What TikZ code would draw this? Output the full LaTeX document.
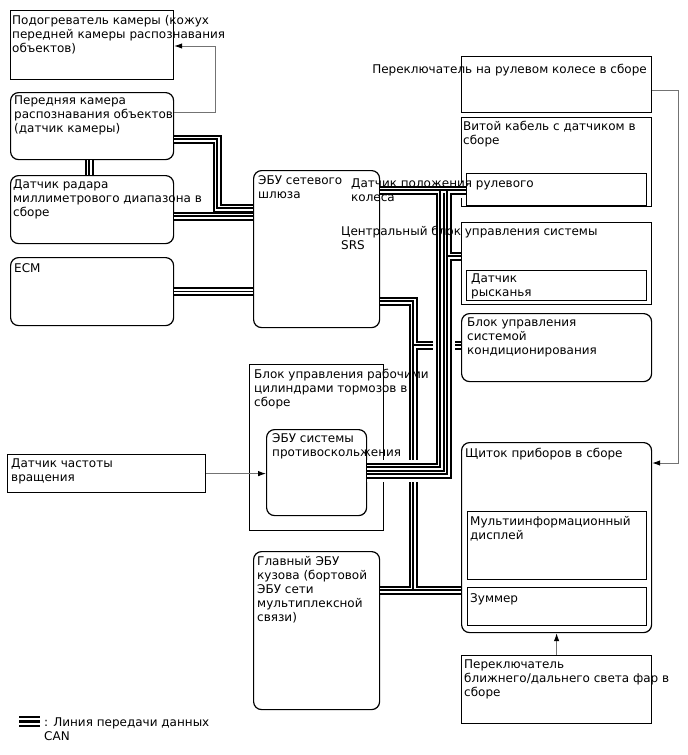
\documentclass[tikz,border=0pt]{standalone}
\usepackage{fontspec}
\setmainfont{DejaVu Sans}
\usetikzlibrary{arrows.meta}
\newcommand{\tfont}{\fontsize{12}{14}\selectfont}

\tikzset{
  box/.style={draw, line width=1.2pt, anchor=north west, inner sep=0pt},
  rbox/.style={box, rounded corners=8pt},
  sz/.style 2 args={minimum width=#1pt, minimum height=#2pt},
  txt/.style={anchor=north west, inner sep=0pt, align=left, font=\tfont, execute at begin node=\strut},
  can/.style={line width=9pt, postaction={draw, white, line width=5pt}, postaction={draw, black, line width=1.2pt}},
  cantop/.style={can, preaction={draw, white, line width=15pt}},
  sig/.style={draw=black!55, line width=0.9pt, -{Latex[black, length=8pt, width=5.5pt]}}
}

\begin{document}
\begin{tikzpicture}[x=1pt, y=-1pt]
  \useasboundingbox (0,0) rectangle (688,755);

  % left column
  \node[box, sz={163}{69}] (heater) at (10,10) {};
  \node[rbox, sz={163}{67}] (camera) at (10,92) {};
  \node[rbox, sz={163}{68}] (radar) at (10,175) {};
  \node[rbox, sz={163}{68}] (ecm) at (10,257) {};
  \node[box, sz={198}{38}] (speed) at (7,454) {};

  % middle column
  \node[rbox, sz={126}{157}] (gw) at (253,170) {};
  \node[box, sz={134}{166}] (brake) at (249,364) {};
  \node[rbox, sz={100}{86}] (abs) at (266,429) {};
  \node[rbox, sz={126}{158}] (body) at (253,551) {};

  % right column
  \node[box, sz={190}{56}] (swsw) at (461,56) {};
  \node[box, sz={190}{89}] (spiral) at (461,117) {};
  \node[box, sz={180}{32}] (angle) at (466,173) {};
  \node[box, sz={190}{82}] (srs) at (461,222) {};
  \node[box, sz={180}{30}] (yaw) at (466,270) {};
  \node[rbox, sz={190}{68}] (ac) at (461,313) {};
  \node[rbox, sz={190}{190}] (cluster) at (461,442) {};
  \node[box, sz={179}{68}] (mid) at (467,511) {};
  \node[box, sz={179}{38}] (buzzer) at (467,587) {};
  \node[box, sz={190}{68}] (lamp) at (461,655) {};

  % CAN lines
  \draw[can] (camera.south -| 89,0) -- (radar.north -| 89,0);
  \draw[can] (camera.east |- 0,139) -| (217,208) -- (gw.west |- 0,208);
  \draw[can] (radar.east |- 0,216) -- (gw.west |- 0,216);
  \draw[can] (ecm.east) -- (gw.west |- ecm.east);
  \draw[can] (gw.east |- 0,301) -| (413,590)
    (413,345) -- (ac.west |- 0,345)
    (body.east |- 0,590) -- (cluster.west |- 0,590);
  \draw[cantop] (gw.east |- 0,190) -- (angle.west |- 0,190)
    (440,190) |- (abs.east |- 0,467)
    (447,190) |- (abs.east |- 0,474)
    (447,256) -- (srs.west |- 0,256);

  % other signals
  \draw[sig] (camera.east |- 0,112) -| (215,46) -- (heater.east |- 0,46);
  \draw[sig] (speed.east) -- (abs.west |- speed.east);
  \draw[sig] (swsw.east |- 0,90) -| (678,463) -- (cluster.east |- 0,463);
  \draw[sig] (lamp.north) -- (cluster.south);

  % texts
  \node[txt] (heater-t) at (12,15) {Подогреватель камеры (кожух\\передней камеры распознавания\\объектов)};
  \node[txt] (camera-t) at (14,96) {Передняя камера\\распознавания объектов\\(датчик камеры)};
  \node[txt] (radar-t) at (13,180) {Датчик радара\\миллиметрового диапазона в\\сборе};
  \node[txt] (ecm-t) at (14,262) {ECM};
  \node[txt] (speed-t) at (11,459) {Датчик частоты\\вращения};
  \node[txt] (gw-t) at (258,175) {ЭБУ сетевого\\шлюза};
  \node[txt] (brake-t) at (254,369) {Блок управления рабочими\\цилиндрами тормозов в\\сборе};
  \node[txt] (abs-t) at (272,433) {ЭБУ системы\\противоскольжения};
  \node[txt] (body-t) at (257,556) {Главный ЭБУ\\кузова (бортовой\\ЭБУ сети\\мультиплексной\\связи)};
  \node[txt, anchor=north east] (swsw-t) at (647,63) {Переключатель на рулевом колесе в сборе};
  \node[txt] (spiral-t) at (463,121) {Витой кабель с датчиком в\\сборе};
  \node[txt] (angle-t) at (351,179) {Датчик положения рулевого\\колеса};
  \node[txt] (srs-t) at (341,226) {Центральный блок управления системы\\SRS};
  \node[txt] (yaw-t) at (471,274) {Датчик\\рысканья};
  \node[txt] (ac-t) at (467,318) {Блок управления\\системой\\кондиционирования};
  \node[txt] (cluster-t) at (465,447) {Щиток приборов в сборе};
  \node[txt] (mid-t) at (470,516) {Мультиинформационный\\дисплей};
  \node[txt] (buzzer-t) at (470,592) {Зуммер};
  \node[txt] (lamp-t) at (464,660) {Переключатель\\ближнего/дальнего света фар в\\сборе};

  % legend
  \foreach \y in {717,721.5,726}
    \draw[line width=2.2pt] (19,\y) -- (40,\y);
  \node[txt] (legend-t) at (44,718) {: Линия передачи данных\\CAN};
\end{tikzpicture}
\end{document}
